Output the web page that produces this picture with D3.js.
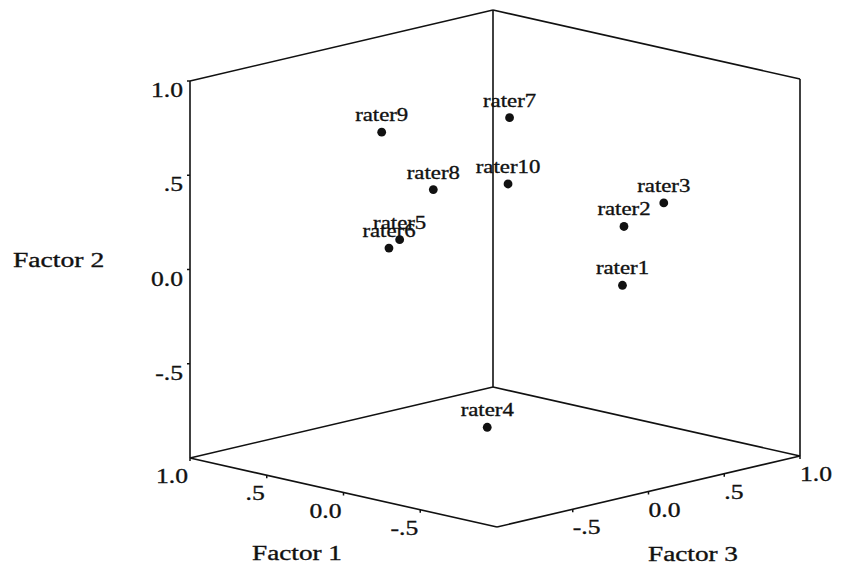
<!DOCTYPE html>
<html>
<head>
<meta charset="utf-8">
<style>
  body { margin: 0; background: #fff; }
  svg text { font-family: "Liberation Serif", "Times New Roman", serif; fill: #111; stroke: #111; stroke-width: 0.35px; }
</style>
</head>
<body>
<div id="chart"></div>
<script src="https://d3js.org/d3.v7.min.js"></script>
<script>
// factor loadings
const raters  = ['rater1', 'rater2', 'rater3', 'rater4', 'rater5', 'rater6', 'rater7', 'rater8', 'rater9', 'rater10'];
const factor1 = [-0.10, -0.10, -0.30, 0.10, 0.70, 0.75, 0.30, 0.55, 0.60, 0.30];
const factor2 = [-0.21, 0.10, 0.25, -0.87, 0.01, -0.04, 0.67, 0.29, 0.64, 0.32];
const factor3 = [0.74, 0.75, 0.81, 0.05, 0.08, 0.06, 0.40, 0.15, -0.14, 0.39];

const tickValues = [-0.5, 0, 0.5, 1.0];
const tickLabels = ['-.5', '0.0', '.5', '1.0'];

const width = 841, height = 569;
const svg = d3.select('#chart').append('svg')
  .attr('width', width)
  .attr('height', height);

// oblique projection of the cube: each factor moves the point along its own edge
const origin = [497, 527];   // corner where f1 = f3 = f2 = -1
const x1 = d3.scaleLinear().domain([-1, 1]).range([0, -307]);
const y1 = d3.scaleLinear().domain([-1, 1]).range([0, -69]);
const x3 = d3.scaleLinear().domain([-1, 1]).range([0, 303]);
const y3 = d3.scaleLinear().domain([-1, 1]).range([0, -71]);
const y2 = d3.scaleLinear().domain([-1, 1]).range([0, -377]);

function project(f1, f2, f3) {
  return [origin[0] + x1(f1) + x3(f3), origin[1] + y1(f1) + y3(f3) + y2(f2)];
}

function label(x, y, txt, size, sx, anchor) {
  svg.append('text')
    .attr('transform', `translate(${x},${y}) scale(${sx},1)`)
    .attr('text-anchor', anchor)
    .attr('font-size', size)
    .text(txt);
}

// box: back walls and floor
const edges = [
  [[1, -1, -1], [1, 1, -1]],
  [[1, -1, 1], [1, 1, 1]],
  [[-1, -1, 1], [-1, 1, 1]],
  [[1, 1, -1], [1, 1, 1]],
  [[1, 1, 1], [-1, 1, 1]],
  [[1, -1, -1], [1, -1, 1]],
  [[1, -1, 1], [-1, -1, 1]],
  [[1, -1, -1], [-1, -1, -1]],
  [[-1, -1, -1], [-1, -1, 1]]
];
const line = d3.line();
edges.forEach(([a, b]) => {
  svg.append('path')
    .attr('d', line([project(a[0], a[1], a[2]), project(b[0], b[1], b[2])]))
    .attr('stroke', '#111')
    .attr('stroke-width', 1.6)
    .attr('fill', 'none');
});

// Factor 2 axis (left vertical edge)
tickValues.forEach((v, i) => {
  const p = project(1, v, -1);
  svg.append('line').attr('x1', p[0]).attr('x2', p[0] - 3).attr('y1', p[1]).attr('y2', p[1])
    .attr('stroke', '#111').attr('stroke-width', 1.5);
  label(183, p[1] + 16, tickLabels[i], 21, 1.22, 'end');
});

// Factor 1 axis (front left floor edge)
tickValues.forEach((v, i) => {
  const p = project(v, -1, -1);
  svg.append('line').attr('x1', p[0]).attr('x2', p[0]).attr('y1', p[1]).attr('y2', p[1] + 3)
    .attr('stroke', '#111').attr('stroke-width', 1.5);
  label(p[0] - 2, p[1] + 25, tickLabels[i], 21, 1.22, 'end');
});

// Factor 3 axis (front right floor edge)
tickValues.forEach((v, i) => {
  const p = project(-1, -1, v);
  svg.append('line').attr('x1', p[0]).attr('x2', p[0]).attr('y1', p[1]).attr('y2', p[1] + 3)
    .attr('stroke', '#111').attr('stroke-width', 1.5);
  label(p[0], p[1] + 25, tickLabels[i], 21, 1.22, 'start');
});

// axis titles
label(13, 267, 'Factor 2', 20, 1.38, 'start');
label(297, 560, 'Factor 1', 20, 1.36, 'middle');
label(693, 561, 'Factor 3', 20, 1.36, 'middle');

// points
const pts = raters.map((name, i) => ({ name, p: project(factor1[i], factor2[i], factor3[i]) }));

svg.selectAll('circle.pt')
  .data(pts)
  .enter()
  .append('circle')
  .attr('class', 'pt')
  .attr('cx', (d) => d.p[0])
  .attr('cy', (d) => d.p[1])
  .attr('r', 4.4)
  .attr('fill', '#111');

pts.forEach((d) => label(d.p[0], d.p[1] - 11, d.name, 19, 1.2, 'middle'));
</script>
</body>
</html>
